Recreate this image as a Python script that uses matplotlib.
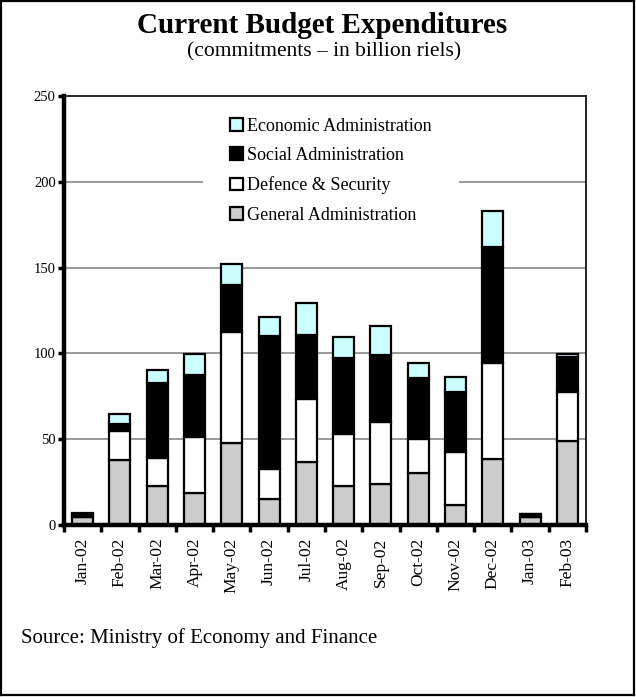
import numpy as np
import matplotlib.pyplot as plt
from matplotlib.lines import Line2D

plt.rcParams['font.family'] = ['Liberation Serif', 'DejaVu Serif']

months = ['Jan-02', 'Feb-02', 'Mar-02', 'Apr-02', 'May-02', 'Jun-02', 'Jul-02',
          'Aug-02', 'Sep-02', 'Oct-02', 'Nov-02', 'Dec-02', 'Jan-03', 'Feb-03']

# billion riels
general = [4.5, 38.0, 22.8, 18.4, 47.7, 15.1, 36.5, 23.0, 23.8, 30.0, 11.6, 38.5, 4.5, 48.7]
defence = [0.4, 17.0, 16.3, 32.6, 65.0, 17.4, 36.8, 30.0, 36.1, 19.9, 30.7, 56.0, 0.4, 29.0]
social = [1.5, 3.6, 43.7, 36.2, 26.9, 77.9, 37.5, 44.1, 38.9, 35.9, 35.2, 67.3, 1.3, 20.3]
economic = [0.3, 5.9, 7.7, 12.2, 12.2, 10.8, 18.7, 12.5, 17.2, 8.7, 8.9, 21.3, 0.3, 1.6]

series = [
    ('General Administration', general, '#cccccc'),
    ('Defence & Security', defence, '#ffffff'),
    ('Social Administration', social, '#000000'),
    ('Economic Administration', economic, '#ccffff'),
]

fig = plt.figure(figsize=(6.36, 6.97), dpi=100)
ax = fig.add_axes([0.1006, 0.2468, 0.8208, 0.6155])

x = np.arange(len(months))
bottom = np.zeros(len(months))
handles = []
for name, vals, col in series:
    b = ax.bar(x, vals, width=0.56, bottom=bottom, color=col, edgecolor='black',
               linewidth=1.6, label=name, zorder=3)
    handles.append(b)
    bottom += np.array(vals)

ax.set_xlim(-0.5, len(months) - 0.5)
ax.set_ylim(0, 250)
ax.set_yticks([0, 50, 100, 150, 200, 250])
for v in [50, 100, 150, 200]:
    ax.axhline(v, color='#7f7f7f', lw=1.1, zorder=1)

ax.set_xticks(np.arange(len(months) + 1) - 0.5)
ax.set_xticklabels([])
ax.set_xticks(x, minor=True)
ax.set_xticklabels(months, minor=True, rotation=90, fontsize=12.5)
ax.tick_params(axis='x', which='minor', length=0, pad=9)
ax.tick_params(axis='x', which='major', length=5, width=2.5, direction='out')
ax.tick_params(axis='y', length=4, width=2.5, direction='out', labelsize=10.5, pad=2)

for side, lw in [('left', 3.2), ('bottom', 3.2), ('top', 1.2), ('right', 1.2)]:
    ax.spines[side].set_linewidth(lw)
    ax.spines[side].set_zorder(6)

leg = ax.legend(handles[::-1], [s[0] for s in series][::-1], loc='upper left',
                bbox_to_anchor=(0.266, 1.012), fontsize=13, frameon=True,
                framealpha=1, edgecolor='none', facecolor='white', fancybox=False,
                handlelength=0.72, handleheight=0.72, handletextpad=0.25,
                labelspacing=0.68, borderpad=1.5, borderaxespad=0)
leg.set_zorder(5)
for h in leg.legend_handles:
    h.set_linewidth(1.6)

fig.text(0.507, 0.964, 'Current Budget Expenditures', ha='center', va='center',
         fontsize=21, fontweight='bold')
fig.text(0.51, 0.926, '(commitments \u2013 in billion riels)', ha='center', va='center',
         fontsize=15.5)
fig.text(0.033, 0.085, 'Source: Ministry of Economy and Finance', ha='left',
         va='center', fontsize=15)

# frame around the chart
for xs, ys in [([0.002, 0.002], [0.003, 0.999]), ([0.997, 0.997], [0.003, 0.999]),
               ([0.002, 0.997], [0.003, 0.003]), ([0.002, 0.997], [0.999, 0.999])]:
    fig.add_artist(Line2D(xs, ys, color='black', lw=1.6, transform=fig.transFigure))

fig.savefig('out.png', dpi=100)
